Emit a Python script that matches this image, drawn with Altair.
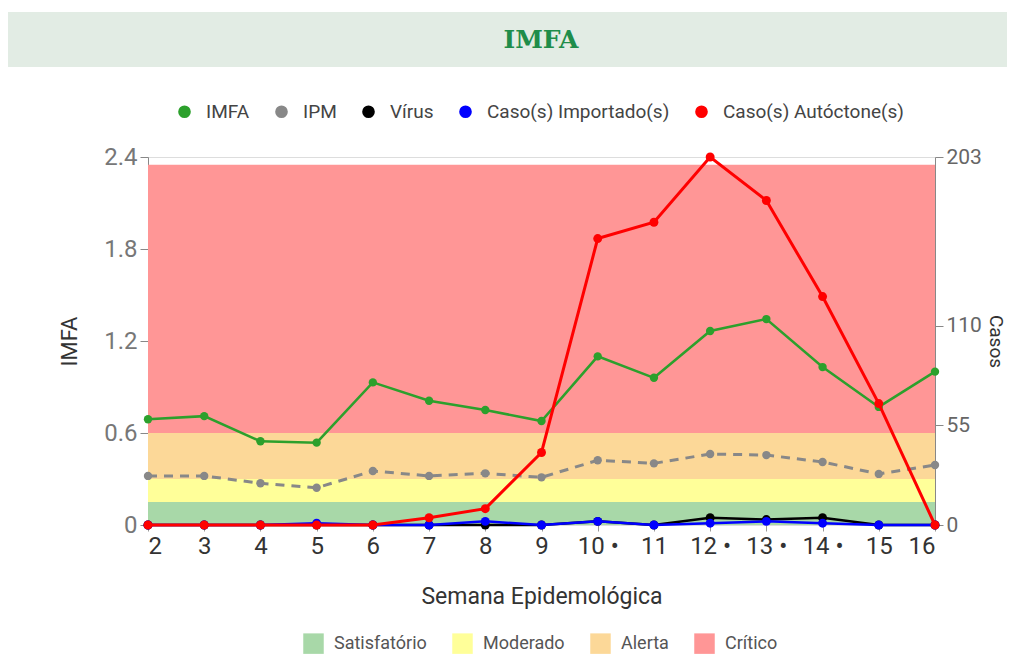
import altair as alt
import pandas as pd

# ---------------- data ----------------
WEEKS = list(range(2, 17))
WEEK_LABELS = ["2", "3", "4", "5", "6", "7", "8", "9", "10 •", "11",
               "12 •", "13 •", "14 •", "15", "16"]

IMFA = [0.69, 0.71, 0.546, 0.537, 0.93, 0.81, 0.75, 0.678, 1.10, 0.96,
        1.265, 1.343, 1.03, 0.77, 1.00]
IPM = [0.32, 0.32, 0.272, 0.243, 0.352, 0.32, 0.337, 0.311, 0.422, 0.402,
       0.463, 0.456, 0.411, 0.333, 0.391]
VIRUS = [0, 0, 0, 0, 0, 0, 0, 0, 2, 0, 4, 3, 4, 0, 0]
IMPORTADO = [0, 0, 0, 1, 0, 0, 2, 0, 2, 0, 1, 2, 1, 0, 0]
AUTOCTONE = [0, 0, 0, 0, 0, 4, 9, 40, 158, 167, 203, 179, 126, 67, 0]

SERIES = ["IMFA", "IPM", "Vírus", "Caso(s) Importado(s)", "Caso(s) Autóctone(s)"]
SERIES_COLORS = ["#2ca02c", "#888888", "#000000", "#0000ff", "#ff0000"]

BANDS = ["Satisfatório", "Moderado", "Alerta", "Crítico"]
BAND_LO = [0.0, 0.15, 0.3, 0.6]
BAND_HI = [0.15, 0.3, 0.6, 2.35]
BAND_COLORS = ["#a8d8a8", "#ffff99", "#fcd898", "#ff9696"]

IMFA_TICKS = [0, 0.6, 1.2, 1.8, 2.4]
CASOS_TICKS = [0, 55, 110, 203]

TITLE = "IMFA"

# ---------------- tables ----------------
left_df = pd.DataFrame(
    [{"semana": w, "serie": "IMFA", "valor": v} for w, v in zip(WEEKS, IMFA)]
    + [{"semana": w, "serie": "IPM", "valor": v} for w, v in zip(WEEKS, IPM)]
)
right_series = {"Vírus": VIRUS, "Caso(s) Importado(s)": IMPORTADO,
                "Caso(s) Autóctone(s)": AUTOCTONE}
bands_df = pd.DataFrame({"faixa": BANDS, "lo": BAND_LO, "hi": BAND_HI,
                         "x0": [WEEKS[0]] * 4, "x1": [WEEKS[-1]] * 4})
COLOR_OF = dict(zip(SERIES, SERIES_COLORS))

FONT = "Roboto"
label_expr = "[" + ",".join("'%s'" % s for s in WEEK_LABELS) + "][datum.value - %d]" % WEEKS[0]

x_scale = alt.Scale(domain=[WEEKS[0], WEEKS[-1]], nice=False, zero=False)
x_axis = alt.Axis(values=WEEKS, labelExpr=label_expr, title="Semana Epidemológica",
                  domain=False, grid=False, tickColor="#999", tickSize=6,
                  labelFontSize=24, labelColor="#333", labelFont=FONT, labelPadding=3,
                  titleFontSize=23, titleFont=FONT, titleColor="#333",
                  titleFontWeight="normal", titlePadding=27)
X = alt.X("semana:Q", scale=x_scale, axis=x_axis)

left_axis = alt.Axis(values=IMFA_TICKS, format=".1~f", title="IMFA", grid=False,
                     domainColor="#888", tickColor="#888", tickSize=8,
                     labelFontSize=24, labelColor="#777", labelFont=FONT, labelPadding=3,
                     titleFontSize=22, titleFont=FONT, titleColor="#333",
                     titleFontWeight="normal", titlePadding=22)
left_scale = alt.Scale(domain=[0, 2.4], nice=False)

right_axis = alt.Axis(values=CASOS_TICKS, title="Casos", orient="right", grid=False,
                      domainColor="#888", tickColor="#888", tickSize=8,
                      labelFontSize=21, labelColor="#666", labelFont=FONT, labelPadding=3,
                      titleFontSize=19, titleFont=FONT, titleColor="#333",
                      titleFontWeight="normal", titlePadding=4)
right_scale = alt.Scale(domain=[0, 203], nice=False)

color_scale = alt.Scale(domain=SERIES, range=SERIES_COLORS)
color_legend = alt.Legend(orient="none", legendX=27, legendY=-55, direction="horizontal",
                          title=None, symbolType="circle", symbolSize=160,
                          symbolStrokeWidth=0, symbolOpacity=1, labelLimit=400,
                          labelFontSize=19, labelFont=FONT, labelColor="#444",
                          labelOffset=12, columnPadding=22, padding=0)
fill_legend = alt.Legend(orient="none", legendX=155, legendY=476, direction="horizontal",
                         title=None, symbolType="square", symbolSize=420,
                         symbolStrokeWidth=0, labelLimit=400,
                         labelFontSize=18, labelFont=FONT, labelColor="#555",
                         labelOffset=10, columnPadding=25, padding=0)

# header band
header_df = pd.DataFrame({"t": [TITLE]})
header_rect = alt.Chart(header_df).mark_rect(fill="#e2ece4").encode(
    x=alt.value(-140), x2=alt.value(860), y=alt.value(-145), y2=alt.value(-90))
header_text = alt.Chart(header_df).mark_text(
    font="DejaVu Serif", fontWeight="bold", fontSize=25, color="#1f8d4a",
    baseline="middle", align="center").encode(
    x=alt.value(393), y=alt.value(-117), text="t:N")

bands = alt.Chart(bands_df).mark_rect().encode(
    x=alt.X("x0:Q", scale=x_scale, axis=x_axis), x2="x1:Q",
    y=alt.Y("lo:Q", scale=left_scale, axis=left_axis), y2="hi:Q",
    fill=alt.Fill("faixa:N", scale=alt.Scale(domain=BANDS, range=BAND_COLORS),
                  legend=fill_legend, sort=BANDS))

Yl = alt.Y("valor:Q", scale=left_scale, axis=left_axis)
imfa_line = alt.Chart(left_df).transform_filter("datum.serie == 'IMFA'").mark_line(
    strokeWidth=2.5, color=COLOR_OF["IMFA"]).encode(x=X, y=Yl)
ipm_line = alt.Chart(left_df).transform_filter("datum.serie == 'IPM'").mark_line(
    strokeWidth=3, strokeDash=[9, 7], color=COLOR_OF["IPM"]).encode(x=X, y=Yl)
left_points = alt.Chart(left_df).mark_point(filled=True, size=70, opacity=1).encode(
    x=X, y=Yl, color=alt.Color("serie:N", scale=color_scale, legend=color_legend))

left = alt.layer(header_rect, header_text, bands, imfa_line, ipm_line, left_points)

Yr = alt.Y("valor:Q", scale=right_scale, axis=right_axis)
right_layers = []
for name in ["Vírus", "Caso(s) Importado(s)", "Caso(s) Autóctone(s)"]:
    df = pd.DataFrame({"semana": WEEKS, "serie": name, "valor": right_series[name]})
    lw = 3 if name == "Caso(s) Autóctone(s)" else 2.5
    right_layers.append(alt.Chart(df).mark_line(strokeWidth=lw, color=COLOR_OF[name]).encode(
        x=X, y=Yr))
    right_layers.append(alt.Chart(df).mark_point(filled=True, size=80, opacity=1).encode(
        x=X, y=Yr, color=alt.Color("serie:N", scale=color_scale, legend=color_legend)))
right = alt.layer(*right_layers)

chart = alt.layer(left, right).resolve_scale(y="independent").properties(
    width=787, height=368,
    padding={"left": 140, "top": 149, "right": 72, "bottom": 131},
    autosize=alt.AutoSizeParams(type="none"),
).configure_view(stroke=None).configure(background="white")

chart.save("out.html", embed_options={"renderer": "svg", "actions": False})
